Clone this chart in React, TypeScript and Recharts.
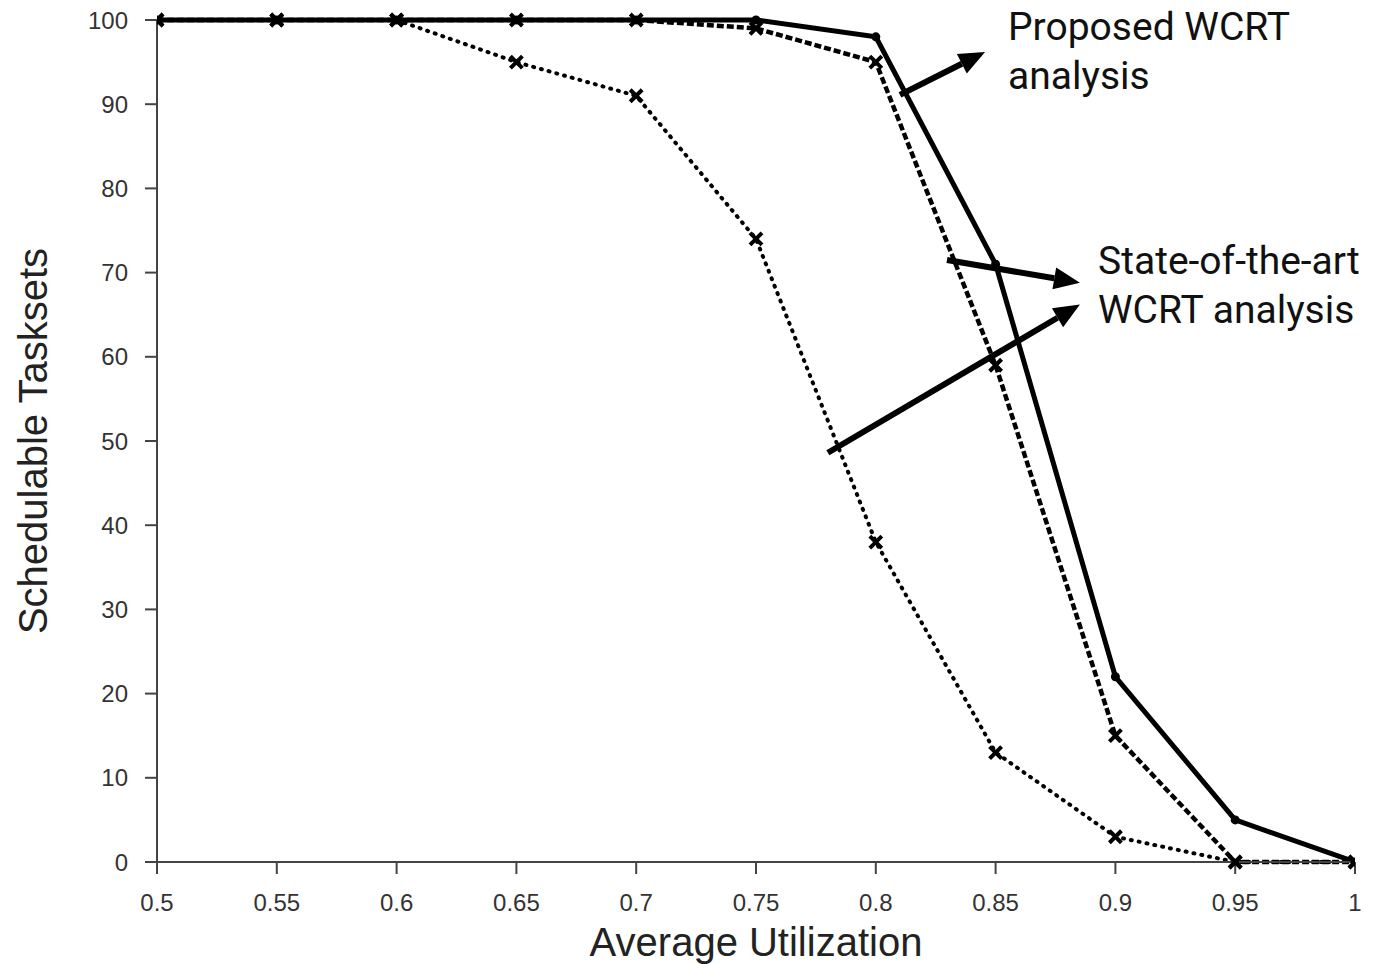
import React from "react";
import {
  LineChart,
  Line,
  XAxis,
  YAxis,
  ReferenceLine,
} from "recharts";

const utilization = [0.5, 0.55, 0.6, 0.65, 0.7, 0.75, 0.8, 0.85, 0.9, 0.95, 1];
const proposed = [100, 100, 100, 100, 100, 100, 98, 71, 22, 5, 0];
const stateOfArtA = [100, 100, 100, 100, 100, 99, 95, 59, 15, 0, 0];
const stateOfArtB = [100, 100, 100, 95, 91, 74, 38, 13, 3, 0, 0];
const xTicks = [0.5, 0.55, 0.6, 0.65, 0.7, 0.75, 0.8, 0.85, 0.9, 0.95, 1];
const yTicks = [0, 10, 20, 30, 40, 50, 60, 70, 80, 90, 100];

// arrows in data coords: [from, to]
const arrows = [
  [{ x: 0.8101, y: 91.1 }, { x: 0.8456, y: 96.2 }],
  [{ x: 0.8297, y: 71.5 }, { x: 0.8852, y: 68.8 }],
  [{ x: 0.78, y: 48.6 }, { x: 0.8852, y: 66.2 }],
];

const data = utilization.map((u, i) => ({
  u,
  proposed: proposed[i],
  a: stateOfArtA[i],
  b: stateOfArtB[i],
}));

const Arrow = (props: any) => {
  const { x1, y1, x2, y2 } = props;
  if (x1 == null) return null;
  const ang = Math.atan2(y2 - y1, x2 - x1);
  const len = 26;
  const w = 11;
  const bx = x2 - len * Math.cos(ang);
  const by = y2 - len * Math.sin(ang);
  const px = -Math.sin(ang) * w;
  const py = Math.cos(ang) * w;
  return (
    <g>
      <line x1={x1} y1={y1} x2={bx} y2={by} stroke="#000" strokeWidth={6} />
      <polygon
        points={`${x2},${y2} ${bx + px},${by + py} ${bx - px},${by - py}`}
        fill="#000"
      />
    </g>
  );
};

const CrossDot = (props: any) => {
  const { cx, cy } = props;
  if (cx == null || cy == null) return null;
  const s = 6;
  return (
    <path
      d={`M${cx - s},${cy - s}L${cx + s},${cy + s}M${cx - s},${cy + s}L${cx + s},${cy - s}`}
      stroke="#000"
      strokeWidth={4}
      fill="none"
    />
  );
};

const SmallDot = (props: any) => {
  const { cx, cy } = props;
  if (cx == null || cy == null) return null;
  return <circle cx={cx} cy={cy} r={4.5} fill="#000" />;
};

const tickStyle = { fontSize: 24, fill: "#333", fontFamily: "Liberation Sans" };
const titleStyle = { fontSize: 40, fill: "#222", fontFamily: "Liberation Sans" };
const noteStyle: React.CSSProperties = {
  position: "absolute",
  fontFamily: "Roboto",
  fontSize: 39,
  lineHeight: "49px",
  color: "#111",
  whiteSpace: "nowrap",
};

export default function App() {
  return (
    <div style={{ position: "absolute", left: 0, top: 0, width: 1380, height: 964, background: "#fff" }}>
      <LineChart
        width={1380}
        height={964}
        data={data}
        margin={{ top: 20, right: 25, left: 0, bottom: 0 }}
      >
        <XAxis
          dataKey="u"
          type="number"
          domain={[0.5, 1]}
          ticks={xTicks}
          tickFormatter={(v) => String(v)}
          height={102}
          stroke="#444"
          strokeWidth={2}
          tickSize={12}
          tickMargin={20}
          tick={tickStyle}
          label={{
            value: "Average Utilization",
            position: "insideBottom",
            offset: 8,
            style: titleStyle,
          }}
          allowDataOverflow
        />
        <YAxis
          type="number"
          domain={[0, 100]}
          ticks={yTicks}
          width={157}
          stroke="#444"
          strokeWidth={2}
          tickSize={12}
          tickMargin={17}
          tick={tickStyle}
          label={{
            value: "Schedulable Tasksets",
            angle: -90,
            position: "insideLeft",
            offset: 33,
            style: { ...titleStyle, textAnchor: "middle" },
          }}
        />
        <Line
          dataKey="b"
          stroke="#000"
          strokeWidth={4}
          strokeDasharray="1 7"
          strokeLinecap="round"
          dot={<CrossDot />}
          isAnimationActive={false}
        />
        <Line
          dataKey="a"
          stroke="#000"
          strokeWidth={4.5}
          strokeDasharray="7 3"
          dot={<CrossDot />}
          isAnimationActive={false}
        />
        <Line
          dataKey="proposed"
          stroke="#000"
          strokeWidth={5}
          dot={<SmallDot />}
          isAnimationActive={false}
        />
        {arrows.map((seg, i) => (
          <ReferenceLine key={i} segment={seg} shape={<Arrow />} />
        ))}
      </LineChart>
      <div style={{ ...noteStyle, left: 1008, top: 3 }}>
        Proposed WCRT
        <br />
        analysis
      </div>
      <div style={{ ...noteStyle, left: 1098, top: 237 }}>
        State-of-the-art
        <br />
        WCRT analysis
      </div>
    </div>
  );
}
